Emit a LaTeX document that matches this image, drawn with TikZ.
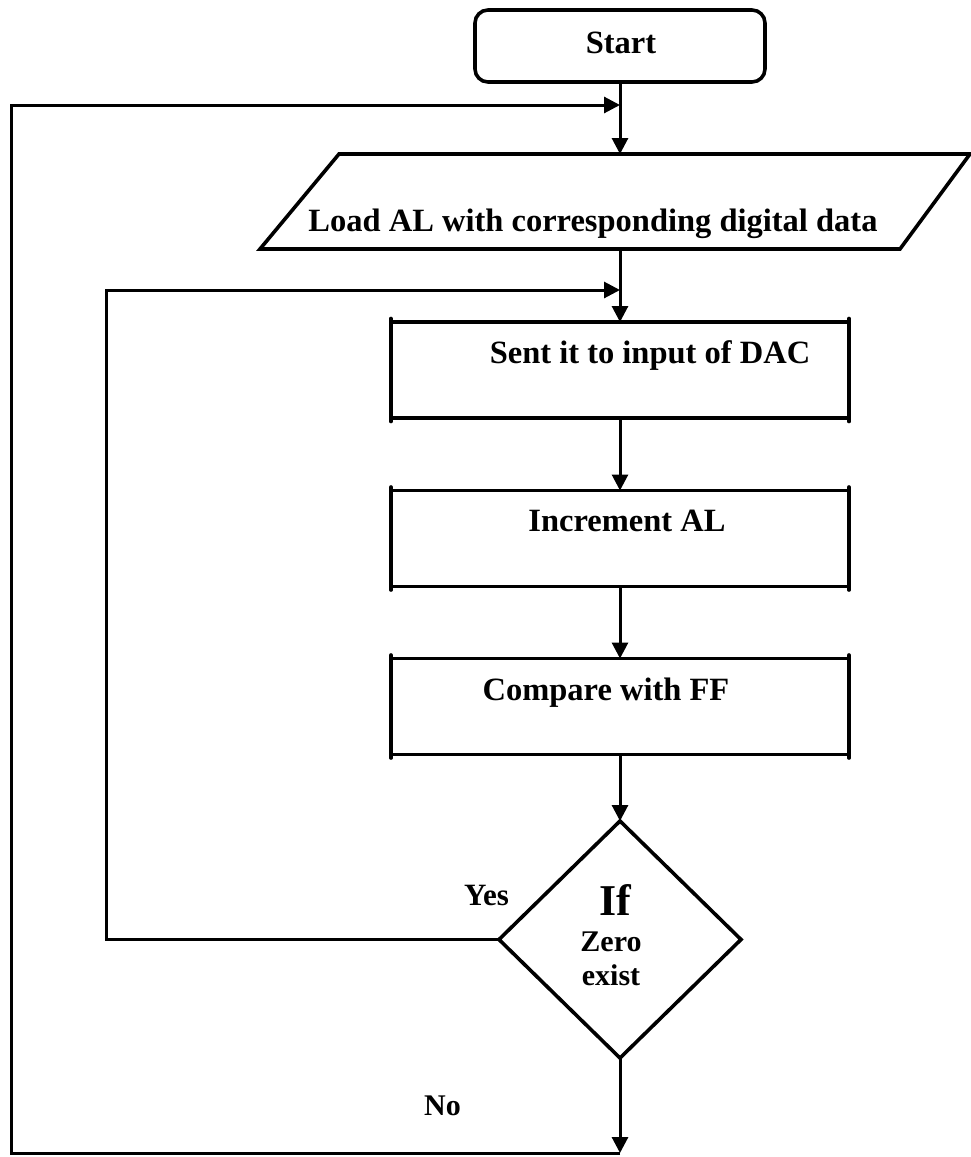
\documentclass[tikz,border=0pt]{standalone}
\usepackage{fontspec}
\setmainfont{Liberation Serif}
\usetikzlibrary{arrows.meta,shapes.geometric}
\begin{document}
\begin{tikzpicture}[x=1pt,y=-1pt,
  shp/.style={draw,line width=3.6pt,outer sep=0pt,inner sep=0pt},
  procbox/.style={shp,rectangle,minimum width=458pt,minimum height=96pt},
  conn/.style={line width=3pt},
  arr/.style={conn,-{Triangle[length=16pt,width=16pt]}},
  txt/.style={anchor=base,inner sep=0pt,font=\bfseries\fontsize{32.5}{38}\selectfont},
  nub/.style={line width=3.6pt,line cap=round}]
\useasboundingbox (0,0) rectangle (971,1157);

% shapes
\node[shp,rectangle,rounded corners=13pt,minimum width=290pt,minimum height=72pt] (start) at (620,46) {};
\node[rectangle,outer sep=0pt,inner sep=0pt,minimum width=710pt,minimum height=95pt] (load) at (615,201.5) {};
\draw[line width=3.6pt] ([xshift=79pt]load.north west) -- (load.north east)
  -- ([xshift=-70pt]load.south east) -- (load.south west) -- cycle;
\node[procbox] (r1) at (620,370) {};
\node[procbox] (r2) at (620,538.5) {};
\node[procbox] (r3) at (620,706.5) {};
\node[shp,diamond,minimum width=242pt,minimum height=237pt] (dia) at (620,939.5) {};

\foreach \n in {r1,r2,r3}
  \foreach \a in {north west,north east,south west,south east}
    \draw[nub] ([yshift=3.5pt]\n.\a) -- ([yshift=-3.5pt]\n.\a);

% texts
\node[txt] (tstart) at (621,53) {Start};
\node[txt] (tload) at (593,231) {Load AL with corresponding digital data};
\node[txt] (tr1) at (650,363) {Sent it to input of DAC};
\node[txt] (tr2) at (627,531) {Increment AL};
\node[txt] (tr3) at (606,700) {Compare with FF};
\node[txt,font=\bfseries\fontsize{44}{50}\selectfont] (tif) at (615,915) {If};
\node[txt,font=\bfseries\fontsize{30}{35}\selectfont] (tzero) at (611,951) {Zero};
\node[txt,font=\bfseries\fontsize{30}{35}\selectfont] (texist) at (611,985) {exist};
\node[txt,font=\bfseries\fontsize{31}{36}\selectfont] (tyes) at (486.5,905) {Yes};
\node[txt,font=\bfseries\fontsize{30}{35}\selectfont] (tno) at (442.5,1115) {No};

% junction coordinates
\coordinate (j1) at (620,105);
\coordinate (x1) at (11,105);
\coordinate (j2) at (620,290);
\coordinate (x2) at (106,290);
\coordinate (b1) at (620,1153);

% connectors
\draw[arr] (start.south) -- (start.south |- load.north);
\draw[arr] (r1.north |- load.south) -- (r1.north);
\draw[arr] (r1.south) -- (r2.north);
\draw[arr] (r2.south) -- (r3.north);
\draw[arr] (r3.south) -- (dia.north);
\draw[arr] (dia.south) -- (b1);
\draw[arr] (b1) -| (x1) -- (j1);
\draw[arr] (dia.west) -| (x2) -- (j2);
\end{tikzpicture}
\end{document}
